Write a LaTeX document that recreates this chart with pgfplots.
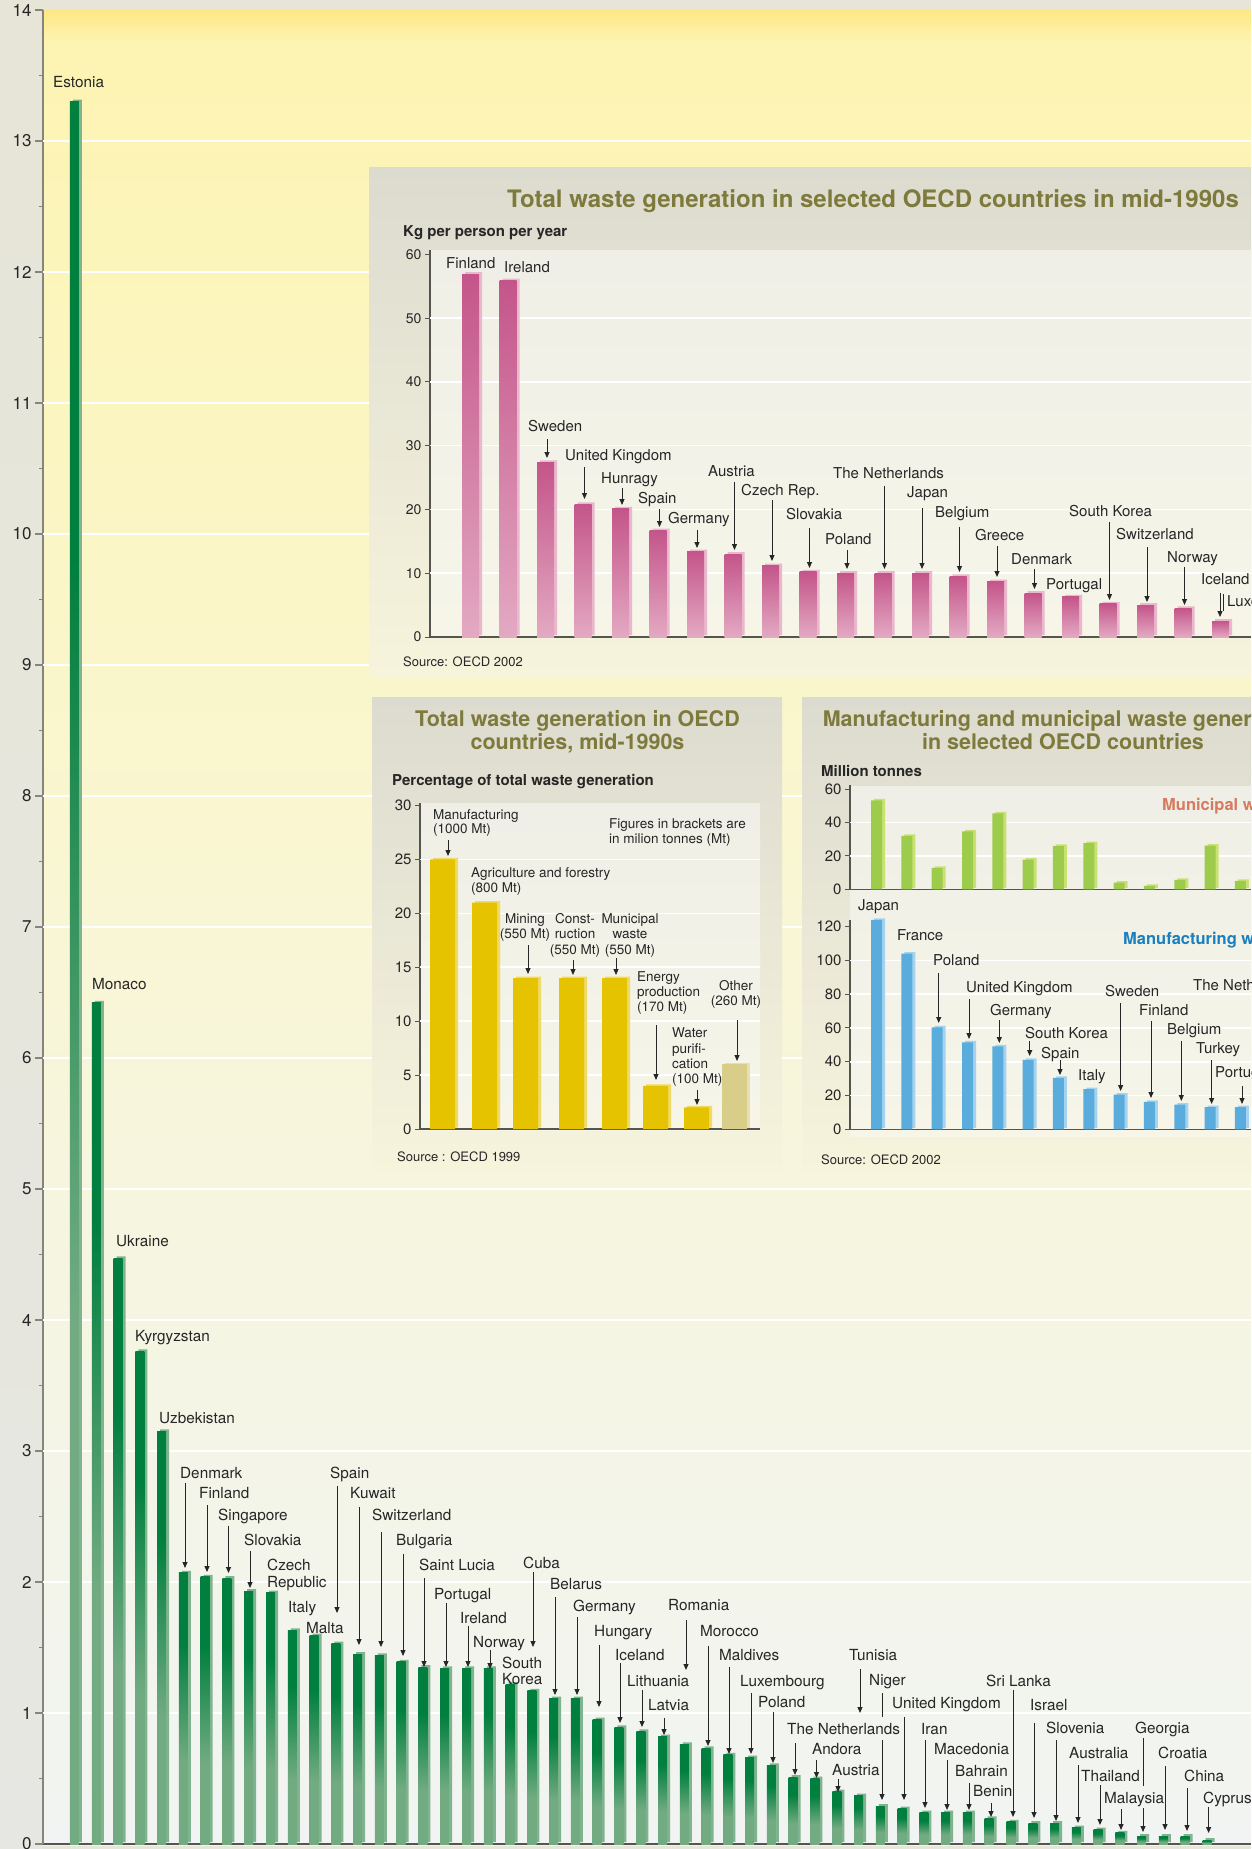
\documentclass[border=0pt]{standalone}
\usepackage{pgfplots}
\pgfplotsset{compat=1.18}
\usepackage{pgfplotstable}
\usetikzlibrary{arrows.meta}
\usepackage{fontspec}
\setmainfont{TeX Gyre Heros}
\newcommand{\fs}[1]{\fontsize{#1}{#1}\selectfont}

\definecolor{txt}{HTML}{262626}
\definecolor{axg}{HTML}{85857D}
\definecolor{axb}{HTML}{55554F}
\definecolor{dkg}{HTML}{007F3E}
\definecolor{ltg}{HTML}{72AB82}
\definecolor{stg}{HTML}{80B48F}
\definecolor{olive}{HTML}{7E7A3C}
\definecolor{pkd}{HTML}{C4558A}
\definecolor{pkl}{HTML}{E3A9C2}
\definecolor{pks}{HTML}{EAB7CD}
\definecolor{yel}{HTML}{E6C300}
\definecolor{yels}{HTML}{F0DA66}
\definecolor{oth}{HTML}{D9CD8A}
\definecolor{oths}{HTML}{E8DFAE}
\definecolor{mgr}{HTML}{9DCB4C}
\definecolor{mgrs}{HTML}{C8E172}
\definecolor{mbl}{HTML}{5AACDC}
\definecolor{mbls}{HTML}{A5D3EF}
\definecolor{salm}{HTML}{D77A60}
\definecolor{blu}{HTML}{1A80C0}
\definecolor{pantop}{HTML}{DCDBCF}
\definecolor{panbot}{HTML}{F7F4DC}
\definecolor{inntop}{HTML}{F0EFE7}
\definecolor{innbot}{HTML}{F6F5E8}
\definecolor{outer}{HTML}{E6E5D7}
\definecolor{outerb}{HTML}{E6E7E2}
\definecolor{bgA}{HTML}{FFE784}
\definecolor{bgB}{HTML}{FDF4B2}
\definecolor{bgC}{HTML}{FAF6CC}
\definecolor{bgD}{HTML}{F5F5E6}
\definecolor{bgE}{HTML}{F1F4F2}

\pgfdeclareverticalshading{gbar}{100bp}{color(0bp)=(ltg); color(25bp)=(ltg); color(40bp)=(ltg); color(62bp)=(dkg); color(75bp)=(dkg); color(100bp)=(dkg)}

% waste per capita (main chart), in bar order
\pgfplotstableread{
i v
1 13.30
2 6.42
3 4.47
4 3.76
5 3.15
6 2.07
7 2.04
8 2.03
9 1.93
10 1.92
11 1.63
12 1.59
13 1.53
14 1.45
15 1.44
16 1.39
17 1.35
18 1.34
19 1.34
20 1.34
21 1.22
22 1.17
23 1.11
24 1.11
25 0.95
26 0.89
27 0.86
28 0.82
29 0.76
30 0.73
31 0.68
32 0.66
33 0.60
34 0.51
35 0.50
36 0.40
37 0.37
38 0.29
39 0.27
40 0.24
41 0.24
42 0.24
43 0.195
44 0.17
45 0.16
46 0.16
47 0.125
48 0.11
49 0.085
50 0.06
51 0.06
52 0.06
53 0.03
}\maindata

\pgfplotstableread{
i v
1 56.9
2 55.9
3 27.4
4 20.8
5 20.1
6 16.7
7 13.4
8 13.0
9 11.2
10 10.2
11 10.0
12 10.0
13 10.0
14 9.5
15 8.7
16 6.9
17 6.3
18 5.2
19 5.0
20 4.5
21 2.5
}\oecdkg

\pgfplotstableread{
x v
444 25
486 21
527 14
573 14
616 14
657 4
698 2
}\sectors

\pgfplotstableread{
i mun man
1 53.4 124
2 32.0 104
3 12.9 60.3
4 34.7 51.5
5 45.6 49.1
6 17.8 41.1
7 26.0 30.5
8 27.7 23.8
9 4.0 20.5
10 2.0 16.2
11 5.6 14.6
12 26.2 13.2
13 5.0 13.2
}\mm

\tikzset{
  lab/.style={anchor=base west, inner sep=0pt, font=\fs{15.3}, text=txt},
  ilab/.style={anchor=base west, inner sep=0pt, font=\fs{15}, text=txt},
  slab/.style={anchor=base west, inner sep=0pt, font=\fs{13.5}, text=txt},
  clab/.style={anchor=base, inner sep=0pt, font=\fs{13.5}, text=txt},
  arr/.style={draw=txt, line width=1pt, -{Triangle[length=6pt,width=5pt]}},
  ln/.style={draw=txt, line width=1pt},
}
\newcommand{\LA}[7]{\node[#1] at (#3,#4) {#2}; \draw[arr] (#5,#6) -- (#5,#7);}

\pgfplotsset{
  inset/.style={scale only axis, anchor=south west,
    axis x line*=bottom, axis y line*=left,
    axis line style={-, draw=axb, line width=1.3pt},
    xtick=\empty, tick align=outside, major tick length=5pt,
    tick style={draw=axb, line width=1pt},
    yticklabel style={text=txt, /pgf/number format/assume math mode=true},
    clip mode=individual},
}

\begin{document}
\begin{tikzpicture}
\useasboundingbox (0pt,0pt) rectangle (1251pt,-1849pt);
\clip (0pt,0pt) rectangle (1251pt,-1849pt);

% ---------- backgrounds
\begin{scope}[x=1pt,y=-1pt]
\fill[outer] (0,0) rectangle (1251,1849);
\shade[top color=outer, bottom color=outerb] (0,0) rectangle (43,1849);
\shade[top color=bgA, bottom color=bgB] (43,10) rectangle (1251,42);
\shade[top color=bgB, bottom color=bgC] (43,41) rectangle (1251,700);
\shade[top color=bgC, bottom color=bgD] (43,699) rectangle (1251,1400);
\shade[top color=bgD, bottom color=bgE] (43,1399) rectangle (1251,1845);
\end{scope}

% ---------- main chart
\begin{axis}[
  at={(43pt,-1844pt)}, anchor=south west,
  scale only axis, width=1208pt, height=1834pt,
  xmin=-0.515, xmax=54.95, ymin=0, ymax=14,
  axis x line*=bottom, axis y line*=left,
  x axis line style={-, draw=axb, line width=2.5pt},
  y axis line style={-, draw=axg, line width=2pt},
  xtick=\empty,
  ytick={0,1,...,14}, minor ytick={0.5,1.5,...,13.5},
  tick align=outside, major tick length=8pt, minor tick length=4pt,
  tick style={draw=axg, line width=1.2pt},
  yticklabel style={font=\fs{17}, text=txt, /pgf/number format/assume math mode=true},
  extra y ticks={1,2,...,13}, extra y tick labels={},
  extra y tick style={grid=major, major grid style={draw=white, line width=2pt}, tick style={draw=none}},
  clip mode=individual,
]
\addplot[ybar, bar width=9pt, bar shift=1.5pt, fill=stg, draw=none, yshift=2pt] table[x=i,y=v]{\maindata};
\pgfplotsinvokeforeach{1,...,53}{
  \addplot[ybar, bar width=9pt, bar shift=-1.5pt, draw=none, top color=dkg, bottom color=ltg, shading=gbar, restrict x to domain=#1:#1] table[x=i,y=v]{\maindata};
}
\end{axis}

% ---------- inset panels
\begin{scope}[x=1pt,y=-1pt]
\shade[top color=pantop, bottom color=panbot] (369,167) rectangle (1251,676);
\shade[top color=inntop, bottom color=innbot] (430,250) rectangle (1251,637);
\shade[top color=pantop, bottom color=panbot] (372,697) rectangle (782,1172);
\shade[top color=inntop, bottom color=innbot] (421,803) rectangle (760,1130);
\shade[top color=pantop, bottom color=panbot] (802,697) rectangle (1251,1172);
\shade[top color=inntop, bottom color=innbot] (850,786) rectangle (1251,1136);
\end{scope}

% ---------- inset 1: kg per person per year
\begin{axis}[inset, at={(430pt,-637pt)}, width=821pt, height=387pt,
  xmin=-0.12, xmax=21.773, ymin=0, ymax=60.7,
  ytick={0,10,...,60}, yticklabel style={font=\fs{14}},
  extra y ticks={10,20,...,50}, extra y tick labels={},
  extra y tick style={grid=major, major grid style={draw=white, line width=1.5pt}, tick style={draw=none}}]
\addplot[ybar, bar width=17pt, bar shift=1.5pt, fill=pks, draw=none, yshift=2pt] table[x=i,y=v]{\oecdkg};
\pgfplotsinvokeforeach{1,...,21}{
  \addplot[ybar, bar width=17pt, bar shift=-1.5pt, draw=none, top color=pkd, bottom color=pkl, restrict x to domain=#1:#1] table[x=i,y=v]{\oecdkg};
}
\end{axis}

% ---------- inset 2: share by sector
\begin{axis}[inset, at={(420pt,-1129pt)}, width=340pt, height=325.7pt,
  xmin=420, xmax=760, ymin=0, ymax=30.2,
  ytick={0,5,...,30}, yticklabel style={font=\fs{15}},
  extra y ticks={5,10,...,25}, extra y tick labels={},
  extra y tick style={grid=major, major grid style={draw=white, line width=1.5pt}, tick style={draw=none}}]
\addplot[ybar, bar width=25pt, bar shift=1.5pt, fill=yels, draw=none, yshift=1.5pt] table[x=x,y=v]{\sectors};
\addplot[ybar, bar width=25pt, bar shift=-1.5pt, fill=yel, draw=none] table[x=x,y=v]{\sectors};
\addplot[ybar, bar width=25pt, bar shift=1.5pt, fill=oths, draw=none, yshift=1.5pt] coordinates {(736,6)};
\addplot[ybar, bar width=25pt, bar shift=-1.5pt, fill=oth, draw=none] coordinates {(736,6)};
\end{axis}

% ---------- inset 3a: municipal waste
\begin{axis}[inset, at={(850pt,-889.3pt)}, width=401pt, height=104pt,
  xmin=0.0768, xmax=13.298, ymin=0, ymax=62.4,
  ytick={0,20,40,60}, yticklabel style={font=\fs{15}},
  extra y ticks={20,40}, extra y tick labels={},
  extra y tick style={grid=major, major grid style={draw=white, line width=1.5pt}, tick style={draw=none}}]
\addplot[ybar, bar width=11pt, bar shift=1.5pt, fill=mgrs, draw=none, yshift=1.5pt] table[x=i,y=mun]{\mm};
\addplot[ybar, bar width=11pt, bar shift=-1.5pt, fill=mgr, draw=none] table[x=i,y=mun]{\mm};
\end{axis}

% ---------- inset 3b: manufacturing waste
\begin{axis}[inset, at={(850pt,-1129.3pt)}, width=401pt, height=209.4pt,
  xmin=0.0768, xmax=13.298, ymin=0, ymax=124,
  ytick={0,20,...,120}, yticklabel style={font=\fs{15}},
  extra y ticks={20,40,...,100}, extra y tick labels={},
  extra y tick style={grid=major, major grid style={draw=white, line width=1.5pt}, tick style={draw=none}}]
\addplot[ybar, bar width=11pt, bar shift=1.5pt, fill=mbls, draw=none, yshift=1.5pt] table[x=i,y=man]{\mm};
\addplot[ybar, bar width=11pt, bar shift=-1.5pt, fill=mbl, draw=none] table[x=i,y=man]{\mm};
\end{axis}

% ---------- annotations
\begin{scope}[x=1pt,y=-1pt]
% main chart
\node[lab] at (53,88) {Estonia};
\node[lab] at (92,989) {Monaco};
\node[lab] at (116,1246) {Ukraine};
\node[lab] at (135,1341) {Kyrgyzstan};
\node[lab] at (159,1423) {Uzbekistan};
\LA{lab}{Denmark}{180}{1478}{185}{1483}{1568}
\LA{lab}{Finland}{199}{1498}{207}{1505}{1572}
\LA{lab}{Singapore}{218}{1520}{228.5}{1526}{1573}
\LA{lab}{Slovakia}{244}{1545}{250}{1551}{1588}
\node[lab] at (267,1570) {Czech};
\node[lab] at (267,1587) {Republic};
\node[lab] at (288,1612) {Italy};
\node[lab] at (306,1633) {Malta};
\LA{lab}{Spain}{330}{1478}{337}{1486}{1613}
\LA{lab}{Kuwait}{350}{1498}{359}{1507}{1645}
\LA{lab}{Switzerland}{372}{1520}{381}{1532}{1647}
\LA{lab}{Bulgaria}{396}{1545}{403}{1554}{1656}
\LA{lab}{Saint Lucia}{419}{1570}{424}{1578}{1667}
\LA{lab}{Portugal}{434}{1599}{446}{1603}{1667}
\LA{lab}{Ireland}{460}{1623}{468}{1626}{1667}
\LA{lab}{Norway}{473}{1647}{490}{1650}{1669}
\node[lab] at (502,1668) {South};
\node[lab] at (502,1684) {Korea};
\LA{lab}{Cuba}{523}{1568}{533}{1572}{1647}
\LA{lab}{Belarus}{550}{1589}{555}{1597}{1695}
\LA{lab}{Germany}{573}{1611}{577}{1617}{1695}
\LA{lab}{Hungary}{594}{1636}{599}{1645}{1707}
\LA{lab}{Iceland}{615}{1660}{620}{1663}{1723}
\LA{lab}{Lithuania}{627}{1686}{642}{1690}{1727}
\LA{lab}{Latvia}{648}{1710}{664}{1718}{1735}
\LA{lab}{Romania}{668}{1610}{686}{1620}{1670}
\LA{lab}{Morocco}{700}{1636}{708}{1646}{1746}
\LA{lab}{Maldives}{719}{1660}{729}{1667}{1754}
\LA{lab}{Luxembourg}{740}{1686}{751}{1693}{1754}
\LA{lab}{Poland}{758}{1707}{773}{1712}{1763}
\LA{lab}{The Netherlands}{787}{1734}{795}{1743}{1775}
\LA{lab}{Andora}{812}{1754}{816.5}{1760}{1778}
\LA{lab}{Austria}{832}{1775}{838}{1779}{1792}
\LA{lab}{Tunisia}{849}{1660}{860}{1669}{1713}
\node[lab] at (869,1685) {Niger};
\draw[ln] (882,1693) -- (882,1717);
\draw[arr] (882,1740) -- (882,1800);
\LA{lab}{United Kingdom}{892}{1708}{904}{1717}{1800}
\LA{lab}{Iran}{921}{1734}{925}{1740}{1808}
\LA{lab}{Macedonia}{934}{1754}{947}{1760}{1810}
\LA{lab}{Bahrain}{955}{1776}{969}{1783}{1810}
\LA{lab}{Benin}{973}{1796}{991}{1803}{1817}
\LA{lab}{Sri Lanka}{986}{1686}{1013}{1690}{1817}
\LA{lab}{Israel}{1030}{1710}{1034}{1723}{1818}
\LA{lab}{Slovenia}{1046}{1733}{1056}{1740}{1821}
\LA{lab}{Australia}{1069}{1758}{1078}{1765}{1823}
\LA{lab}{Thailand}{1081}{1781}{1100}{1785}{1825}
\LA{lab}{Malaysia}{1104}{1803}{1121}{1809}{1830}
\node[lab] at (1135,1733) {Georgia};
\draw[ln] (1143,1738) -- (1143,1786);
\draw[arr] (1143,1808) -- (1143,1832);
\LA{lab}{Croatia}{1158}{1758}{1165}{1766}{1830}
\LA{lab}{China}{1184}{1781}{1187}{1788}{1831}
\LA{lab}{Cyprus}{1203}{1803}{1208.6}{1807}{1833}

% inset 1
\node[anchor=base west, inner sep=0pt, font=\bfseries\fs{24}, text=olive] at (507,207) {Total waste generation in selected OECD countries in mid-1990s};
\node[anchor=base west, inner sep=0pt, font=\bfseries\fs{15}, text=txt] at (403,236) {Kg per person per year};
\node[anchor=base west, inner sep=0pt, font=\fs{13}, text=txt] at (403,666) {Source: OECD 2002};
\node[ilab] at (446,268.5) {Finland};
\node[ilab] at (504,272.5) {Ireland};
\LA{ilab}{Sweden}{528}{431.5}{547}{439}{458}
\LA{ilab}{United Kingdom}{565}{460.5}{584.5}{467}{499}
\LA{ilab}{Hunragy}{601}{483.5}{622}{488}{505}
\LA{ilab}{Spain}{638}{503.5}{659.5}{509}{527}
\LA{ilab}{Germany}{668}{523.5}{697}{530}{548}
\LA{ilab}{Austria}{708}{476.5}{734.5}{482}{550}
\LA{ilab}{Czech Rep.}{741}{495.5}{772}{500}{561}
\LA{ilab}{Slovakia}{786}{519.5}{809.5}{528}{568}
\LA{ilab}{Poland}{825}{544.5}{847}{550}{569}
\LA{ilab}{The Netherlands}{833}{478.5}{884.5}{486}{569}
\LA{ilab}{Japan}{907}{497.5}{922}{508}{569}
\LA{ilab}{Belgium}{935}{517.5}{959.5}{527}{572}
\LA{ilab}{Greece}{975}{540.5}{997}{546}{577}
\LA{ilab}{Denmark}{1011}{564.5}{1034.5}{569}{589}
\node[ilab] at (1046,589.5) {Portugal};
\LA{ilab}{South Korea}{1069}{516.5}{1109.5}{522}{600}
\LA{ilab}{Switzerland}{1116}{539.5}{1147}{547}{602}
\LA{ilab}{Norway}{1167}{562.5}{1184.5}{567}{605}
\LA{ilab}{Iceland}{1201}{584.5}{1220}{593}{617}
\draw[ln] (1223.5,594) -- (1223.5,611);
\node[ilab] at (1227,606.5) {Luxembourg};

% inset 2
\node[anchor=base, inner sep=0pt, font=\bfseries\fs{21.5}, text=olive] at (577.5,726) {Total waste generation in OECD};
\node[anchor=base, inner sep=0pt, font=\bfseries\fs{21.5}, text=olive] at (577.5,749.3) {countries, mid-1990s};
\node[anchor=base west, inner sep=0pt, font=\bfseries\fs{15}, text=txt] at (392,785) {Percentage of total waste generation};
\node[slab] at (433,819.3) {Manufacturing};
\node[slab] at (433,833) {(1000 Mt)};
\draw[arr] (448,840) -- (448,856);
\node[slab] at (471,877.3) {Agriculture and forestry};
\node[slab] at (471,892.3) {(800 Mt)};
\node[clab] at (525,923.3) {Mining};
\node[clab] at (525,938.3) {(550 Mt)};
\draw[arr] (528,945) -- (528,974);
\node[clab] at (575,923.3) {Const-};
\node[clab] at (575,938.3) {ruction};
\node[clab] at (575,954) {(550 Mt)};
\draw[arr] (573,960) -- (573,975);
\node[clab] at (630,923.3) {Municipal};
\node[clab] at (630,938.3) {waste};
\node[clab] at (630,954) {(550 Mt)};
\draw[arr] (616,958) -- (616,975);
\node[slab] at (637,981) {Energy};
\node[slab] at (637,996.7) {production};
\node[slab] at (637,1011.7) {(170 Mt)};
\draw[arr] (656,1025) -- (656,1080);
\node[slab] at (672,1037.7) {Water};
\node[slab] at (672,1053.3) {purifi-};
\node[slab] at (672,1068.3) {cation};
\node[slab] at (672,1083.3) {(100 Mt)};
\draw[arr] (697,1090) -- (697,1105);
\node[clab] at (736,990) {Other};
\node[clab] at (736,1005.7) {(260 Mt)};
\draw[arr] (737,1020) -- (737,1061);
\node[slab] at (609,828.3) {Figures in brackets are};
\node[slab] at (609,843.3) {in milion tonnes (Mt)};
\node[anchor=base west, inner sep=0pt, font=\fs{13}, text=txt] at (397,1161) {Source : OECD 1999};

% inset 3
\node[anchor=base, inner sep=0pt, font=\bfseries\fs{21.5}, text=olive] at (1063,726) {Manufacturing and municipal waste generation};
\node[anchor=base, inner sep=0pt, font=\bfseries\fs{21.5}, text=olive] at (1063,749.3) {in selected OECD countries};
\node[anchor=base west, inner sep=0pt, font=\bfseries\fs{15}, text=txt] at (821,776) {Million tonnes};
\node[anchor=base west, inner sep=0pt, font=\bfseries\fs{16.5}, text=salm] at (1162,810) {Municipal waste};
\node[anchor=base west, inner sep=0pt, font=\bfseries\fs{16.5}, text=blu] at (1123,944) {Manufacturing waste};
\node[ilab] at (858,910.7) {Japan};
\node[ilab] at (897,940.7) {France};
\LA{ilab}{Poland}{933}{965}{938.7}{973}{1023}
\LA{ilab}{United Kingdom}{966}{992.7}{969}{999}{1039}
\LA{ilab}{Germany}{990}{1015.7}{999.3}{1020}{1043}
\LA{ilab}{South Korea}{1025}{1038.3}{1029.7}{1041}{1056}
\LA{ilab}{Spain}{1041}{1058.3}{1060}{1060}{1075}
\node[ilab] at (1078,1080.7) {Italy};
\LA{ilab}{Sweden}{1105}{996}{1120.6}{1003}{1091}
\LA{ilab}{Finland}{1139}{1015.7}{1151}{1021}{1098}
\LA{ilab}{Belgium}{1167}{1034}{1181.3}{1041}{1101}
\LA{ilab}{Turkey}{1196}{1053.3}{1211.6}{1060}{1104}
\LA{ilab}{Portugal}{1215}{1077.3}{1242}{1086}{1104}
\node[ilab] at (1193,990) {The Netherlands};
\node[anchor=base west, inner sep=0pt, font=\fs{13}, text=txt] at (821,1164) {Source: OECD 2002};
\end{scope}
\end{tikzpicture}
\end{document}
